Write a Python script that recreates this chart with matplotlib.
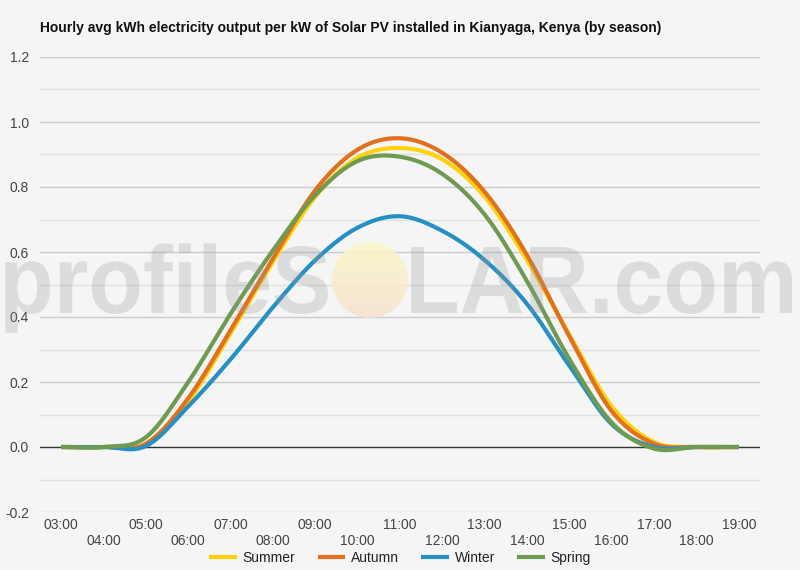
import numpy as np
import matplotlib.pyplot as plt
from matplotlib.patches import Circle, PathPatch
from matplotlib.textpath import TextPath
from matplotlib.font_manager import FontProperties
from matplotlib.transforms import Affine2D

plt.rcParams['font.family'] = ['Liberation Sans', 'DejaVu Sans']

# data
hours = ["03:00", "04:00", "05:00", "06:00", "07:00", "08:00", "09:00", "10:00",
         "11:00", "12:00", "13:00", "14:00", "15:00", "16:00", "17:00", "18:00", "19:00"]
summer = [0.0, 0.0, 0.01, 0.14, 0.35, 0.57, 0.77, 0.89, 0.92, 0.885, 0.77, 0.575, 0.345, 0.125, 0.015, 0.0, 0.0]
autumn = [0.0, 0.0, 0.01, 0.15, 0.36, 0.58, 0.79, 0.915, 0.95, 0.905, 0.785, 0.59, 0.34, 0.11, 0.01, 0.0, 0.0]
winter = [0.0, 0.0, 0.003, 0.125, 0.27, 0.43, 0.575, 0.675, 0.71, 0.665, 0.575, 0.44, 0.25, 0.07, 0.0, 0.0, 0.0]
spring = [0.0, 0.0, 0.03, 0.20, 0.41, 0.605, 0.775, 0.88, 0.893, 0.84, 0.715, 0.51, 0.27, 0.075, -0.005, 0.0, 0.0]

series = [("Summer", summer, "#fcd20a"),
          ("Autumn", autumn, "#e2711d"),
          ("Winter", winter, "#2790c3"),
          ("Spring", spring, "#6f9a52")]


def smooth(y, n_per=40):
    # catmull-rom through the hourly points
    y = np.asarray(y, float)
    n = len(y)
    m = np.zeros(n)
    m[1:-1] = (y[2:] - y[:-2]) / 2
    m[0] = y[1] - y[0]
    m[-1] = y[-1] - y[-2]
    xs, ys = [], []
    for i in range(n - 1):
        t = np.linspace(0, 1, n_per, endpoint=(i == n - 2))
        h00 = 2 * t**3 - 3 * t**2 + 1
        h10 = t**3 - 2 * t**2 + t
        h01 = -2 * t**3 + 3 * t**2
        h11 = t**3 - t**2
        xs.append(i + t)
        ys.append(h00 * y[i] + h10 * m[i] + h01 * y[i + 1] + h11 * m[i + 1])
    return np.concatenate(xs), np.concatenate(ys)


fig = plt.figure(figsize=(8, 5.7), dpi=100)
fig.patch.set_facecolor("#f5f5f5")
ax = fig.add_axes([0.05, 1 - 512 / 570, 0.90, (512 - 57) / 570])
ax.set_facecolor("#f5f5f5")

xi = np.arange(len(hours))

ax.set_ylim(-0.2, 1.2)
ax.set_xlim(-0.5, len(hours) - 0.5)
for v in np.arange(-0.2, 1.21, 0.1):
    if abs(v) < 1e-9:
        continue
    major = abs(round(v * 10)) % 2 == 0
    ax.axhline(v, color="#cccccc" if major else "#e0e0e0", lw=1, zorder=1)
ax.axhline(0, color="#333333", lw=1, zorder=2)

for name, vals, col in series:
    sx, sy = smooth(vals)
    ax.plot(sx, sy, color=col, lw=3, label=name, solid_capstyle="butt", zorder=3)

yt = np.round(np.arange(-0.2, 1.21, 0.2), 1)
ax.set_yticks(yt)
ax.set_yticklabels([f"{v:.1f}" for v in yt])
ax.set_xticks(xi)
ax.set_xticklabels([h if i % 2 == 0 else "\n" + h for i, h in enumerate(hours)])
ax.tick_params(length=0, labelsize=10, labelcolor="#444444")
ax.tick_params(axis="x", pad=4)
ax.tick_params(axis="y", pad=8)
for s in ax.spines.values():
    s.set_visible(False)

fig.text(0.05, 1 - 28 / 570, "Hourly avg kWh electricity output per kW of Solar PV installed in Kianyaga, Kenya (by season)",
         fontsize=10, fontweight="bold", va="center", color="#111111")

fig.legend(loc="center", bbox_to_anchor=(0.5, 1 - 558 / 570), ncol=4, frameon=False,
           fontsize=10, handlelength=2.0, handletextpad=0.4, columnspacing=1.6,
           labelcolor="#222222")

# watermark overlay, pixel coords
ov = fig.add_axes([0, 0, 1, 1], zorder=5)
ov.set_xlim(0, 800)
ov.set_ylim(570, 0)
ov.axis("off")
ov.patch.set_alpha(0)

grad = np.linspace(0, 1, 100)[:, None]
top = np.array([252, 247, 195]) / 255
bot = np.array([248, 224, 205]) / 255
img = top[None, None, :] * (1 - grad[:, :, None]) + bot[None, None, :] * grad[:, :, None]
im = ov.imshow(img, extent=(332, 408, 318, 242), alpha=0.8, aspect="auto", zorder=1)
circ = Circle((370, 280), 38, facecolor="none", edgecolor="none")
ov.add_patch(circ)
im.set_clip_path(circ)

wm_font = FontProperties(family="Liberation Sans", weight="bold")
for word, x0, x1 in [("profileS", 5, 328), ("LAR.com", 411, 792)]:
    tp = TextPath((0, 0), word, size=96, prop=wm_font)
    ext = tp.get_extents()
    k = (x1 - x0) / ext.width
    tr = Affine2D().translate(-ext.x0, 0).scale(k, -1).translate(x0, 313)
    ov.add_patch(PathPatch(tr.transform_path(tp), facecolor="#999999", edgecolor="none",
                           alpha=0.27, zorder=2))
ov.set_xlim(0, 800)
ov.set_ylim(570, 0)

fig.savefig("out.png", dpi=100, facecolor=fig.get_facecolor())
